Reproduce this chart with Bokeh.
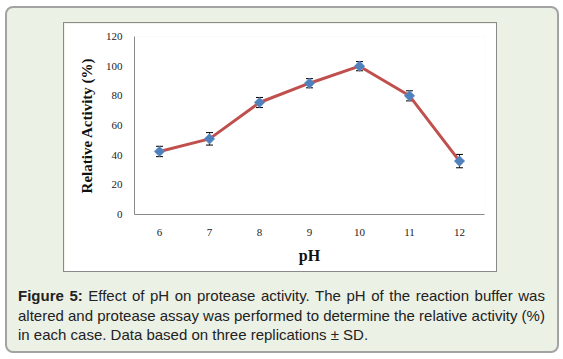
from bokeh.plotting import figure
from bokeh.models import ColumnDataSource, Whisker, FixedTicker, Range1d, Div, TeeHead
from bokeh.layouts import column
from bokeh.embed import file_html
from bokeh.resources import INLINE
import numpy as np

# Data
ph = [6, 7, 8, 9, 10, 11, 12]
activity = [42.5, 51, 75.5, 88.5, 100, 80, 36]
sd = [3.5, 4.2, 3.4, 3.1, 3.1, 3.4, 4.5]
y_ticks = [0, 20, 40, 60, 80, 100, 120]
x_label = "pH"
y_label = "Relative Activity (%)"
caption_bold = "Figure 5:"
caption_lines = [
    "Effect of pH on protease activity. The pH of the reaction buffer was",
    "altered and protease assay was performed to determine the relative activity (%)",
    "in each case. Data based on three replications \u00b1 SD.",
]

src = ColumnDataSource(dict(
    x=ph, y=activity,
    lower=[a - s for a, s in zip(activity, sd)],
    upper=[a + s for a, s in zip(activity, sd)],
))

p = figure(width=434, height=250, output_backend="svg", toolbar_location=None,
           x_range=Range1d(5.5, 12.5), y_range=Range1d(0, 120),
           min_border_left=70, min_border_right=14, min_border_top=13, min_border_bottom=59,
           background_fill_color="white", border_fill_color="white",
           styles={"border": "1px solid #8a8a8a", "box-sizing": "border-box"})
p.outline_line_color = None
p.grid.visible = False

for ax in (p.xaxis[0], p.yaxis[0]):
    ax.axis_line_color = "#8a8a8a"
    ax.axis_line_width = 1
    ax.major_tick_line_color = None
    ax.minor_tick_line_color = None
    ax.major_tick_out = 0
    ax.major_tick_in = 0
    ax.major_label_text_font = "Liberation Serif"
    ax.major_label_text_font_size = "11px"
    ax.major_label_text_color = "#222222"
    ax.axis_label_text_font = "Liberation Serif"
    ax.axis_label_text_font_style = "bold"
    ax.axis_label_text_color = "#111111"

p.xaxis[0].ticker = FixedTicker(ticks=ph)
p.yaxis[0].ticker = FixedTicker(ticks=y_ticks)
p.xaxis[0].axis_label = x_label
p.yaxis[0].axis_label = y_label
p.xaxis[0].axis_label_text_font_size = "16px"
p.yaxis[0].axis_label_text_font_size = "15px"
p.xaxis[0].major_label_standoff = 14
p.yaxis[0].major_label_standoff = 12
p.xaxis[0].axis_label_standoff = 8
p.yaxis[0].axis_label_standoff = 8

w = Whisker(source=src, base="x", lower="lower", upper="upper",
            line_color="black", line_width=1, level="underlay",
            lower_head=TeeHead(size=7, line_color="black", line_width=1),
            upper_head=TeeHead(size=7, line_color="black", line_width=1))
p.add_layout(w)
p.line("x", "y", source=src, line_color="#C0504D", line_width=3)
p.scatter("x", "y", source=src, marker="square", angle=np.pi / 4, size=7.5,
          fill_color="#4F81BD", line_color="#6f8fc8", line_width=0.5)

p.margin = (14, 0, 0, 56)

just = "text-align: justify; text-align-last: justify; white-space: nowrap;"
caption_html = (
    '<div style="' + just + '"><b>' + caption_bold + "</b> " + caption_lines[0] + "</div>"
    + '<div style="' + just + '">' + caption_lines[1] + "</div>"
    + '<div style="white-space: nowrap;">' + caption_lines[2] + "</div>"
)

caption = Div(
    text=caption_html,
    width=527, height=62, margin=(14, 0, 0, 11),
    styles={"font-family": "'Liberation Sans', Arial, sans-serif", "font-size": "15px",
            "line-height": "19.5px", "color": "#222222", "width": "527px"})

layout = column(p, caption, width=554, height=347, spacing=0, margin=(6, 0, 0, 5),
                styles={"background-color": "#ecf1e6", "border": "2px solid #a3a3a3",
                        "border-radius": "8px", "box-sizing": "border-box"})

open("out.html", "w").write(file_html(layout, INLINE))
